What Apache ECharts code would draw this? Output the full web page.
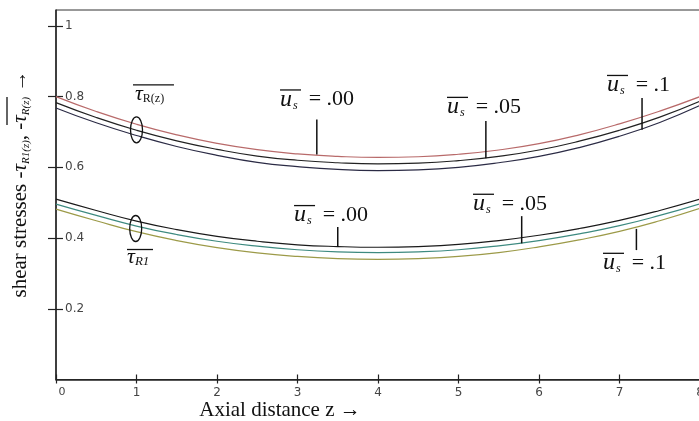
<!DOCTYPE html>
<html>
<head>
<meta charset="utf-8">
<script src="https://cdn.jsdelivr.net/npm/echarts@6/dist/echarts.min.js"></script>
<style>html,body{margin:0;padding:0;background:#fff;}#c{width:699px;height:421px;}</style>
</head>
<body>
<div id="c"></div>
<script>
// ---- data ----
var zValues = [0, 0.5, 1, 1.5, 2, 2.5, 3, 3.5, 4, 4.5, 5, 5.5, 6, 6.5, 7, 7.5, 8];
var tauR_us000 = [0.800, 0.758, 0.722, 0.692, 0.668, 0.650, 0.638, 0.631, 0.628, 0.630, 0.637, 0.649, 0.667, 0.692, 0.723, 0.759, 0.800];
var tauR_us005 = [0.783, 0.741, 0.705, 0.675, 0.651, 0.632, 0.620, 0.613, 0.610, 0.612, 0.619, 0.631, 0.649, 0.674, 0.705, 0.742, 0.787];
var tauR_us010 = [0.768, 0.726, 0.690, 0.659, 0.634, 0.614, 0.602, 0.594, 0.591, 0.593, 0.600, 0.613, 0.631, 0.656, 0.688, 0.727, 0.775];
var tauR1_us000 = [0.510, 0.478, 0.448, 0.424, 0.405, 0.391, 0.381, 0.376, 0.374, 0.376, 0.382, 0.393, 0.408, 0.427, 0.450, 0.478, 0.510];
var tauR1_us005 = [0.496, 0.464, 0.434, 0.410, 0.391, 0.377, 0.367, 0.361, 0.359, 0.361, 0.367, 0.378, 0.393, 0.412, 0.435, 0.464, 0.497];
var tauR1_us010 = [0.482, 0.449, 0.418, 0.393, 0.373, 0.358, 0.348, 0.342, 0.340, 0.342, 0.348, 0.359, 0.375, 0.395, 0.419, 0.449, 0.484];
var xTicks = [0, 1, 2, 3, 4, 5, 6, 7, 8];
var yTicks = [0.2, 0.4, 0.6, 0.8, 1];
var usLabels = ['.00', '.05', '.1', '.00', '.05', '.1'];
// annotation anchors in data units [z, value]
var usLabelAnchors = [[2.783, 0.792], [4.857, 0.771], [6.845, 0.833], [2.957, 0.465], [5.180, 0.497], [6.795, 0.330]];
var usPointers = [[3.24, 0.735, 0.636], [5.34, 0.731, 0.626], [7.28, 0.796, 0.706], [3.50, 0.431, 0.375], [5.785, 0.462, 0.385], [7.21, 0.426, 0.366]];
var ellipseCenters = [[1.0, 0.706], [0.99, 0.427]];
var tauLabelAnchors = [[0.981, 0.808], [0.882, 0.345]];

function pairs(vals) { return zValues.map(function (z, i) { return [z, vals[i]]; }); }

var chart = echarts.init(document.getElementById('c'), null, { renderer: 'canvas' });
var serif = 'Liberation Serif';
var tickFont = { fontFamily: 'DejaVu Sans', fontSize: 12, color: '#444' };

function line(name, vals, color) {
  return { name: name, type: 'line', data: pairs(vals), smooth: true, showSymbol: false,
    lineStyle: { color: color, width: 1.2 }, silent: true, z: 3 };
}

chart.setOption({
  backgroundColor: '#fff',
  animation: false,
  grid: { left: 56, top: 10, width: 644, height: 369.5, outerBoundsMode: 'none', containLabel: false,
    show: true, borderColor: '#333', borderWidth: 1, backgroundColor: 'transparent' },
  xAxis: [{
    type: 'value', min: 0, max: 8, interval: 1,
    axisLine: { show: true, onZero: false, lineStyle: { color: '#222', width: 1.5 } },
    axisTick: { show: true, inside: false, length: 4, lineStyle: { color: '#222', width: 1.2 } },
    axisLabel: Object.assign({ margin: 7, formatter: function (v) { return v === 0 ? '{z|0}' : String(v); },
      rich: { z: { fontFamily: 'DejaVu Sans', fontSize: 11, color: '#444', padding: [0, 0, 8, 12] } } }, tickFont),
    splitLine: { show: false }
  }, {
    type: 'value', min: 0, max: 8, interval: 1, position: 'bottom',
    axisLine: { show: false }, axisLabel: { show: false }, splitLine: { show: false },
    axisTick: { show: true, inside: true, length: 5, lineStyle: { color: '#222', width: 1.2 } }
  }],
  yAxis: [{
    type: 'value', min: 0, max: 1.045,
    axisLine: { show: true, onZero: false, lineStyle: { color: '#222', width: 1.5 } },
    axisTick: { show: true, inside: false, length: 8, customValues: yTicks, lineStyle: { color: '#222', width: 1.2 } },
    axisLabel: Object.assign({ inside: true, margin: 9, customValues: yTicks, formatter: function (v) { return String(v); } }, tickFont),
    splitLine: { show: false }
  }, {
    type: 'value', min: 0, max: 1.045, position: 'left',
    axisLine: { show: false }, axisLabel: { show: false }, splitLine: { show: false },
    axisTick: { show: true, inside: true, length: 7, customValues: yTicks, lineStyle: { color: '#222', width: 1.2 } }
  }],
  series: [
    line('tauR us=.00', tauR_us000, '#b86a6a'),
    line('tauR us=.05', tauR_us005, '#222222'),
    line('tauR us=.1', tauR_us010, '#2b2b45'),
    line('tauR1 us=.00', tauR1_us000, '#1a1a1a'),
    line('tauR1 us=.05', tauR1_us005, '#3d8a80'),
    line('tauR1 us=.1', tauR1_us010, '#9c9a48')
  ]
});

function px(z, v) { return chart.convertToPixel({ gridIndex: 0 }, [z, v]); }

var g = [];
usPointers.forEach(function (p) {
  var a = px(p[0], p[1]), b = px(p[0], p[2]);
  g.push({ type: 'line', shape: { x1: a[0], y1: a[1], x2: b[0], y2: b[1] }, style: { stroke: '#111', lineWidth: 1.5 }, z: 10 });
});
usLabelAnchors.forEach(function (p, i) {
  var a = px(p[0], p[1]);
  g.push({ type: 'group', x: a[0], y: a[1], z: 10, children: [
    { type: 'text', x: 0, y: 0, style: {
      text: '{u|u}{s|s}{e|  = ' + usLabels[i] + '}', align: 'left', verticalAlign: 'middle',
      rich: {
        u: { fontFamily: serif, fontStyle: 'italic', fontSize: 24, fill: '#111', lineHeight: 24, verticalAlign: 'middle' },
        s: { fontFamily: serif, fontStyle: 'italic', fontSize: 12, fill: '#111', lineHeight: 24, verticalAlign: 'bottom', padding: [0, 0, 0, 1] },
        e: { fontFamily: serif, fontSize: 22, fill: '#111', lineHeight: 24, verticalAlign: 'middle' }
      } } },
    { type: 'line', shape: { x1: 0, y1: -9.5, x2: 21, y2: -9.5 }, style: { stroke: '#111', lineWidth: 1.3 } }
  ] });
});
ellipseCenters.forEach(function (p) {
  var a = px(p[0], p[1]);
  g.push({ type: 'ellipse', shape: { cx: a[0], cy: a[1], rx: 6, ry: 13 }, style: { fill: 'none', stroke: '#111', lineWidth: 1.3 }, z: 10 });
});
var tauTexts = ['{t|τ}{r|R(z)}', '{t|τ}{q|R1}'];
var tauBars = [[-2, -9, 41], [0, -8, 26]];
tauLabelAnchors.forEach(function (p, i) {
  var a = px(p[0], p[1]);
  g.push({ type: 'group', x: a[0], y: a[1], z: 10, children: [
    { type: 'text', x: 0, y: 0, style: { text: tauTexts[i], align: 'left', verticalAlign: 'middle',
      rich: {
        t: { fontFamily: serif, fontStyle: 'italic', fontSize: 22, fill: '#111', lineHeight: 22, verticalAlign: 'middle' },
        r: { fontFamily: serif, fontSize: 12, fill: '#111', lineHeight: 22, verticalAlign: 'bottom' },
        q: { fontFamily: serif, fontStyle: 'italic', fontSize: 13, fill: '#111', lineHeight: 22, verticalAlign: 'bottom' }
      } } },
    { type: 'line', shape: { x1: tauBars[i][0], y1: tauBars[i][1], x2: tauBars[i][0] + tauBars[i][2], y2: tauBars[i][1] }, style: { stroke: '#111', lineWidth: 1.3 } }
  ] });
});
g.push({ type: 'text', x: 20, y: 184, rotation: Math.PI / 2, z: 10, style: {
  text: '{a|shear stresses -}{t|τ}{s|R1(z)}{a|, -}{t|τ}{s|R(z)}{a| →}', align: 'center', verticalAlign: 'middle',
  rich: {
    a: { fontFamily: serif, fontSize: 21, fill: '#111', lineHeight: 24, verticalAlign: 'middle' },
    t: { fontFamily: serif, fontStyle: 'italic', fontSize: 21, fill: '#111', lineHeight: 24, verticalAlign: 'middle' },
    s: { fontFamily: serif, fontStyle: 'italic', fontSize: 11, fill: '#111', lineHeight: 24, verticalAlign: 'bottom' }
  } } });
g.push({ type: 'line', shape: { x1: 7, y1: 97, x2: 7, y2: 125 }, style: { stroke: '#111', lineWidth: 1.3 }, z: 10 });
g.push({ type: 'text', x: 280, y: 410, z: 10, style: { text: 'Axial distance z →', align: 'center', verticalAlign: 'middle',
  fontFamily: serif, fontSize: 21, fill: '#111' } });

chart.setOption({ graphic: g });
</script>
</body>
</html>
